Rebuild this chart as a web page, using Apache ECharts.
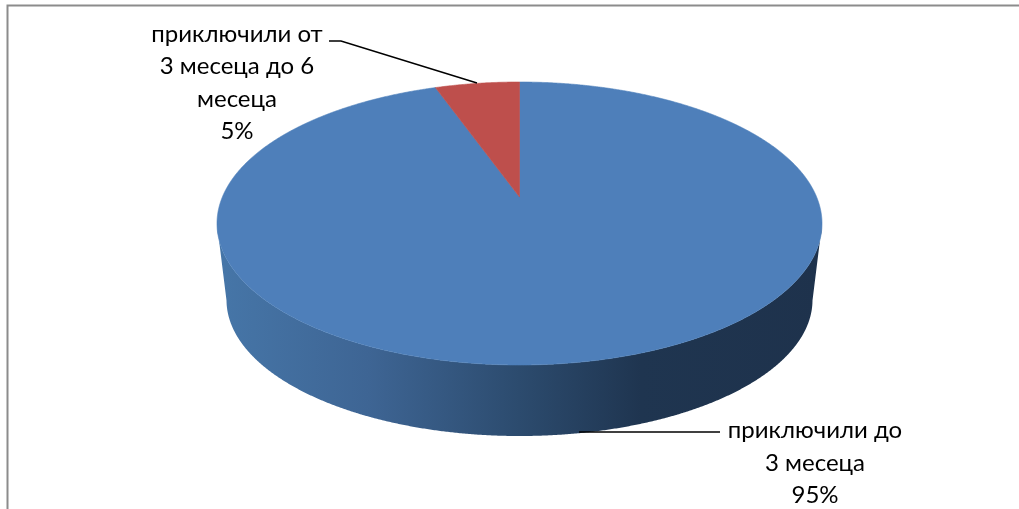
<!DOCTYPE html>
<html><head><meta charset="utf-8">
<style>html,body{margin:0;padding:0;background:#fff}#c{width:1019px;height:509px}</style>
<script src="https://cdn.jsdelivr.net/npm/echarts@6/dist/echarts.min.js"></script>
</head><body><div id="c"></div>
<script>
const categories = ['приключили до 3 месеца', 'приключили от 3 месеца до 6 месеца'];
const values = [94.6, 5.4];
const labelLines = [['приключили до', '3 месеца'], ['приключили от', '3 месеца до 6', 'месеца']];
const colors = ['#4E7FBA', '#BE4F4C'];

const total = values.reduce((a, b) => a + b, 0);
const top3d = { cx: 519.5, cy: 223.5, rx: 302.5, ry: 141.5 };
const bottom3d = { cx: 519.5, cy: 300, rx: 293, ry: 136 };
const k = -0.187; // perspective shift of the pie centre

function rim(e, deg) {
  const t = deg * Math.PI / 180, x = Math.sin(t), y = -Math.cos(t), d = 1 + k * y;
  const px = x * Math.sqrt(1 - k * k) / d, py = (y + k) / d;
  return [e.cx + e.rx * px, e.cy + e.ry * py, py];
}
const sideGradient = { type: 'linear', x: 217, y: 0, x2: 822, y2: 0, global: true, colorStops: [
  { offset: 0, color: '#4676A8' }, { offset: 0.25, color: '#3E6594' }, { offset: 0.5, color: '#2C4B6E' },
  { offset: 0.7, color: '#1F3550' }, { offset: 1, color: '#1E324C' }] };
const labelStyle = { align: 'center', verticalAlign: 'middle', fontFamily: 'Lato, "Open Sans", sans-serif', fontSize: 24, lineHeight: 32.5, fill: '#000' };
const labelPlace = [
  { x: 815, y: 463, line: [[579, 432], [720, 432]] },
  { x: 237, y: 83, line: [[329, 41], [341, 41], [477, 83]] }
];

function renderItem(params, api) {
  const i = params.dataIndex, v = api.value(0);
  let start = 0;
  for (let j = 0; j < i; j++) start += values[j];
  const a0 = start / total * 360, a1 = (start + v) / total * 360;
  const apex = [top3d.cx, top3d.cy + top3d.ry * k];
  const slicePts = [apex], fTop = [], fBot = [];
  for (let a = a0; a <= a1 + 1e-6; a += 0.25) {
    const p = rim(top3d, a);
    slicePts.push([p[0], p[1]]);
    if (p[2] >= 0) { fTop.push([p[0], p[1]]); const b = rim(bottom3d, a); fBot.push([b[0], b[1]]); }
  }
  const end = rim(top3d, a1);
  slicePts.push([end[0], end[1]]);
  const kids = [];
  if (fTop.length) kids.push({ type: 'polygon', z2: 1, shape: { points: fTop.concat(fBot.reverse()) }, style: { fill: sideGradient } });
  kids.push({ type: 'polygon', z2: 2, shape: { points: slicePts }, style: { fill: colors[i], stroke: colors[i], lineWidth: 0.6 } });
  const lp = labelPlace[i];
  kids.push({ type: 'polyline', z2: 3, shape: { points: lp.line }, style: { stroke: '#000', lineWidth: 1.5, fill: 'none' } });
  const pct = Math.round(v / total * 100) + '%';
  kids.push({ type: 'text', z2: 4, style: Object.assign({ x: lp.x, y: lp.y, text: labelLines[i].concat([pct]).join('\n') }, labelStyle) });
  return { type: 'group', children: kids };
}

const chart = echarts.init(document.getElementById('c'), null, { renderer: 'canvas' });
chart.setOption({
  animation: false,
  backgroundColor: '#fff',
  graphic: [{ type: 'polyline', silent: true, z: 0, shape: { points: [[7.5, 509], [7.5, 5.5], [1019, 5.5]] }, style: { stroke: '#8C8C8C', lineWidth: 2, fill: 'none' } }],
  series: [{ type: 'custom', coordinateSystem: 'none', renderItem, clip: false, silent: true,
    data: values.map((v, i) => ({ name: categories[i], value: [v] })) }]
});
</script></body></html>
